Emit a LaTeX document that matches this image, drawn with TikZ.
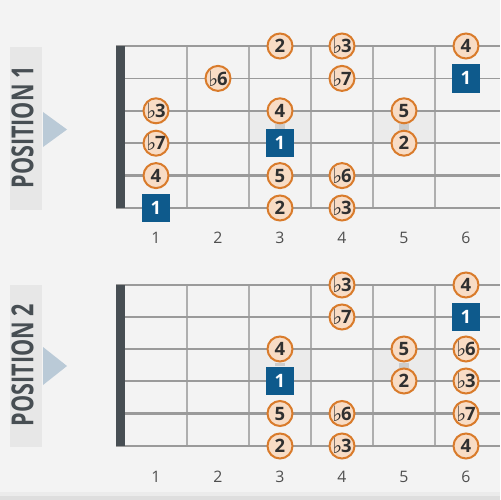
\documentclass[tikz,border=0pt]{standalone}
\usepackage{fontspec}
\setmainfont{Open Sans}
\newfontfamily\flatfont{DejaVu Sans}
\usetikzlibrary{backgrounds}
\definecolor{ringorange}{HTML}{D97B2B}
\definecolor{ringfill}{HTML}{F8DCC5}
\definecolor{rootblue}{HTML}{0E5A8C}
\definecolor{nutgrey}{HTML}{474E53}
\definecolor{wiregrey}{HTML}{9A9A9A}
\definecolor{inkgrey}{HTML}{303030}
\definecolor{papergrey}{HTML}{F3F3F3}
\definecolor{bandgrey}{HTML}{E7E7E7}
\definecolor{arrowblue}{HTML}{BACAD7}
\newcommand{\fl}{\raisebox{-0.6pt}{\scalebox{1.15}{\bfseries\flatfont ♭}}\kern-0.8pt}

\begin{document}
\begin{tikzpicture}
  [x=0.02cm,y=-0.02cm,
   degree/.style={circle,draw=ringorange,fill=ringfill,line width=0.4mm,minimum size=5mm,inner sep=0pt,text=inkgrey,font=\fontsize{10.5}{10.5}\selectfont\bfseries},
   root/.style={rectangle,fill=rootblue,minimum size=5.7mm,inner sep=0pt,text=white,font=\fontsize{10.5}{10.5}\selectfont\bfseries},
   fretno/.style={text=inkgrey!85,font=\fontsize{9}{9}\selectfont},
   title/.style={rotate=90,inner sep=0pt,text=nutgrey},
   wire/.style={wiregrey,line width=#1},
   fretline/.style={wiregrey!80,line width=0.7pt},
   nut/.style={fill=nutgrey},
   band/.style={fill=bandgrey},
   pointer/.style={fill=arrowblue},
   cell/.style={fill=black!8},
   link/.style={black!20,line width=2mm}]
  \useasboundingbox (0,0) rectangle (500,500);

  % position 1
  \node (Atitle) [title] at (22.5,127.5) {\resizebox{2.44cm}{0.44cm}{\bfseries POSITION 1}};
  \node (A13) [degree] at (280,46) {2};
  \node (A14) [degree] at (342,46) {\fl3};
  \node (A16) [degree] at (466,46) {4};
  \node (A22) [degree] at (218,78.4) {\fl6};
  \node (A24) [degree] at (342,78.4) {\fl7};
  \node (A26) [root] at (466,78.4) {1};
  \node (A31) [degree] at (156,110.8) {\fl3};
  \node (A33) [degree] at (280,110.8) {4};
  \node (A35) [degree] at (404,110.8) {5};
  \node (A41) [degree] at (156,143.2) {\fl7};
  \node (A43) [root] at (280,143.2) {1};
  \node (A45) [degree] at (404,143.2) {2};
  \node (A51) [degree] at (156,175.6) {4};
  \node (A53) [degree] at (280,175.6) {5};
  \node (A54) [degree] at (342,175.6) {\fl6};
  \node (A61) [root] at (156,208) {1};
  \node (A63) [degree] at (280,208) {2};
  \node (A64) [degree] at (342,208) {\fl3};
  \node (An1) [fretno] at (156,238) {1};
  \node (An2) [fretno] at (218,238) {2};
  \node (An3) [fretno] at (280,238) {3};
  \node (An4) [fretno] at (342,238) {4};
  \node (An5) [fretno] at (404,238) {5};
  \node (An6) [fretno] at (466,238) {6};

  % position 2
  \node (Btitle) [title] at (22.5,365) {\resizebox{2.44cm}{0.44cm}{\bfseries POSITION 2}};
  \node (B14) [degree] at (342,285) {\fl3};
  \node (B16) [degree] at (466,285) {4};
  \node (B24) [degree] at (342,317) {\fl7};
  \node (B26) [root] at (466,317) {1};
  \node (B33) [degree] at (280,349) {4};
  \node (B35) [degree] at (404,349) {5};
  \node (B36) [degree] at (466,349) {\fl6};
  \node (B43) [root] at (280,381) {1};
  \node (B45) [degree] at (404,381) {2};
  \node (B46) [degree] at (466,381) {\fl3};
  \node (B53) [degree] at (280,413.5) {5};
  \node (B54) [degree] at (342,413.5) {\fl6};
  \node (B56) [degree] at (466,413.5) {\fl7};
  \node (B63) [degree] at (280,446) {2};
  \node (B64) [degree] at (342,446) {\fl3};
  \node (B66) [degree] at (466,446) {4};
  \node (Bn1) [fretno] at (156,477) {1};
  \node (Bn2) [fretno] at (218,477) {2};
  \node (Bn3) [fretno] at (280,477) {3};
  \node (Bn4) [fretno] at (342,477) {4};
  \node (Bn5) [fretno] at (404,477) {5};
  \node (Bn6) [fretno] at (466,477) {6};

  \begin{scope}[on background layer]
    \fill[papergrey] (0,0) rectangle (500,500);
    \fill[black!8] (0,492) rectangle (500,500);
    \fill[black!13] (0,496) rectangle (500,500);
    % side tabs
    \fill[band] (10,47) rectangle (42,210);
    \fill[pointer] (43,112) -- (67,129.5) -- (43,147) -- cycle;
    \fill[band] (10,285) rectangle (42,447);
    \fill[pointer] (43,347) -- (67,366) -- (43,385) -- cycle;
    % shaded cells
    \fill[cell] (249,110.8) rectangle (311,143.2);
    \fill[cell] (373,110.8) rectangle (435,143.2);
    \fill[cell] (249,349) rectangle (311,381);
    \fill[cell] (373,349) rectangle (435,381);
    \draw[link] (A33) -- (A43);
    \draw[link] (A35) -- (A45);
    \draw[link] (B33) -- (B43);
    \draw[link] (B35) -- (B45);
    % board 1
    \draw[fretline] (187,46) -- (187,208);
    \draw[fretline] (249,46) -- (249,208);
    \draw[fretline] (311,46) -- (311,208);
    \draw[fretline] (373,46) -- (373,208);
    \draw[fretline] (435,46) -- (435,208);
    \draw[wire=0.85pt] (116,46) -- (500,46);
    \draw[wire=0.9pt] (116,78.4) -- (500,78.4);
    \draw[wire=1pt] (116,110.8) -- (500,110.8);
    \draw[wire=1.1pt] (116,143.2) -- (500,143.2);
    \draw[wire=1.3pt] (116,175.6) -- (500,175.6);
    \draw[wire=1.6pt] (116,208) -- (500,208);
    \fill[nut] (116,46) rectangle (125,208);
    % board 2
    \draw[fretline] (187,285) -- (187,446);
    \draw[fretline] (249,285) -- (249,446);
    \draw[fretline] (311,285) -- (311,446);
    \draw[fretline] (373,285) -- (373,446);
    \draw[fretline] (435,285) -- (435,446);
    \draw[wire=0.85pt] (116,285) -- (500,285);
    \draw[wire=0.9pt] (116,317) -- (500,317);
    \draw[wire=1pt] (116,349) -- (500,349);
    \draw[wire=1.1pt] (116,381) -- (500,381);
    \draw[wire=1.3pt] (116,413.5) -- (500,413.5);
    \draw[wire=1.6pt] (116,446) -- (500,446);
    \fill[nut] (116,285) rectangle (125,446);
  \end{scope}
\end{tikzpicture}
\end{document}
